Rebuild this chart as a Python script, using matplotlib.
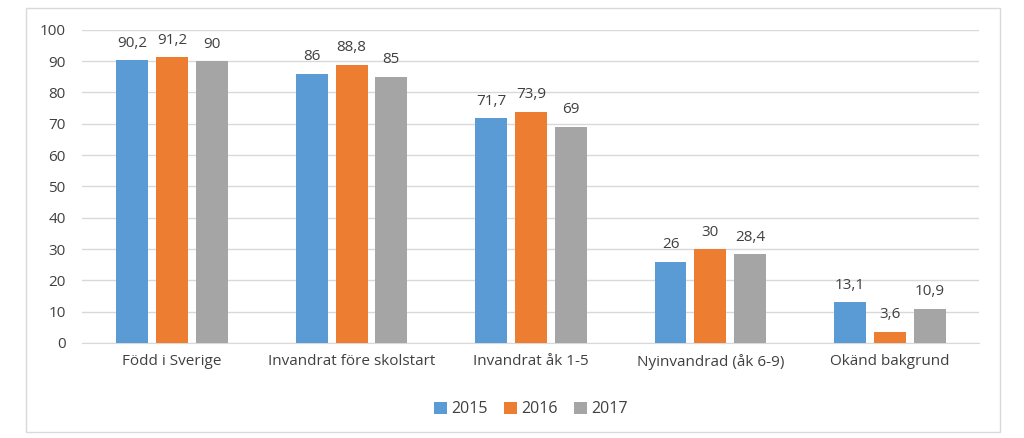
import numpy as np
import matplotlib.pyplot as plt
from matplotlib.patches import Rectangle

# data
categories = ['Född i Sverige', 'Invandrat före skolstart', 'Invandrat åk 1-5',
              'Nyinvandrad (åk 6-9)', 'Okänd bakgrund']
years = ['2015', '2016', '2017']
v2015 = [90.2, 86, 71.7, 26, 13.1]
v2016 = [91.2, 88.8, 73.9, 30, 3.6]
v2017 = [90, 85, 69, 28.4, 10.9]
colors = ['#5b9bd5', '#ed7d31', '#a5a5a5']

plt.rcParams['font.family'] = ['Open Sans', 'DejaVu Sans']
txt = '#404040'

fig = plt.figure(figsize=(10.24, 4.38), dpi=100)
ax = fig.add_axes([0.0805, 0.217, 0.876, 0.715])

x = np.arange(len(categories))
w = 0.178
step = 0.222
for i, (vals, yr) in enumerate(zip([v2015, v2016, v2017], years)):
    pos = x + (i - 1) * step
    bars = ax.bar(pos, vals, w, color=colors[i], label=yr, zorder=3)
    for b, v in zip(bars, vals):
        lab = ('%g' % v).replace('.', ',')
        ax.text(b.get_x() + b.get_width() / 2, v + 3, lab, ha='center', va='bottom',
                fontsize=11, color=txt)

ax.set_xlim(-0.5, len(categories) - 0.5)
ax.set_ylim(0, 100)
ax.set_yticks(range(0, 101, 10))
ax.set_xticks(x)
ax.set_xticklabels(categories)
ax.tick_params(axis='both', length=0, labelsize=11, colors=txt)
ax.tick_params(axis='x', pad=8)
ax.tick_params(axis='y', pad=12)
ax.grid(axis='y', color='#d9d9d9', linewidth=1, zorder=0)
for s in ['top', 'right', 'left']:
    ax.spines[s].set_visible(False)
ax.spines['bottom'].set_color('#d9d9d9')

ax.legend(loc='upper center', bbox_to_anchor=(0.5, -0.14), ncol=3, frameon=False,
          fontsize=11.5, handlelength=0.8, handleheight=0.8, handletextpad=0.3,
          columnspacing=1.0, labelcolor=txt)

fig.patches.append(Rectangle((0.025, 0.014), 0.952, 0.968, transform=fig.transFigure,
                             fill=False, edgecolor='#d9d9d9', linewidth=1))

fig.savefig('out.png', dpi=100)
